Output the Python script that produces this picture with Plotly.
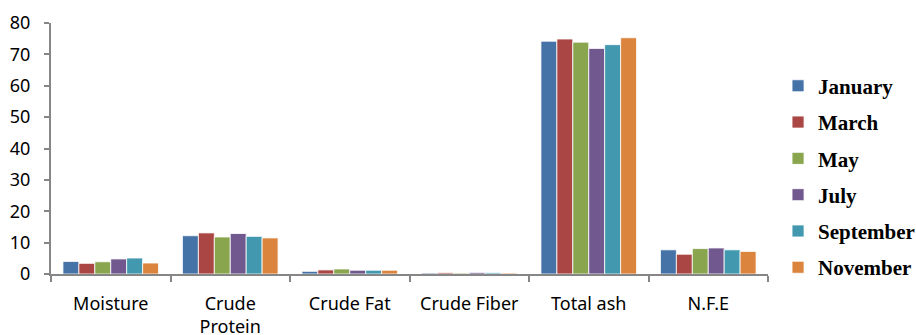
import plotly.graph_objects as go

categories = ["Moisture", "Crude<br>Protein", "Crude Fat", "Crude Fiber", "Total ash", "N.F.E"]
months = ["January", "March", "May", "July", "September", "November"]
colors = ["#4572A7", "#AA4643", "#89A54E", "#71588F", "#4198AF", "#DB843D"]

january = [4.0, 12.2, 0.85, 0.3, 74.2, 7.7]
march = [3.4, 13.1, 1.3, 0.4, 74.9, 6.3]
may = [3.9, 11.8, 1.6, 0.3, 73.9, 8.1]
july = [4.8, 12.9, 1.2, 0.5, 71.9, 8.3]
september = [5.1, 12.0, 1.2, 0.4, 73.1, 7.7]
november = [3.5, 11.5, 1.2, 0.3, 75.3, 7.2]

series = [january, march, may, july, september, november]

fig = go.Figure()
for name, vals, c in zip(months, series, colors):
    fig.add_trace(go.Bar(
        x=categories, y=vals, name=name, legendgroup=name,
        marker=dict(color=c, line=dict(color="white", width=0.8)),
    ))

fig.update_layout(
    width=916, height=335,
    margin=dict(l=51, r=148, t=23, b=61, autoexpand=False),
    paper_bgcolor="white", plot_bgcolor="white",
    barmode="group", bargap=0.2, bargroupgap=0,
    font=dict(family="Noto Sans", size=18, color="black"),
    showlegend=True,
    legend=dict(
        x=1.014, xanchor="left", y=0.388, yanchor="middle",
        font=dict(family="Liberation Serif", size=21, color="black", weight="bold"),
        tracegroupgap=6, bgcolor="rgba(0,0,0,0)",
    ),
    xaxis=dict(
        automargin=False,
        showline=True, linecolor="#868686", linewidth=2,
        ticks="outside", tickson="boundaries", ticklen=6, tickcolor="#868686", tickwidth=1.5,
        ticklabelstandoff=12, showgrid=False,
    ),
    yaxis=dict(
        automargin=False,
        range=[0, 80], dtick=10, showline=True, linecolor="#868686", linewidth=2,
        ticks="outside", ticklen=5, tickcolor="#868686", tickwidth=1.5,
        ticklabelstandoff=10, showgrid=False, zeroline=False,
    ),
)

fig.write_html("out.html")
